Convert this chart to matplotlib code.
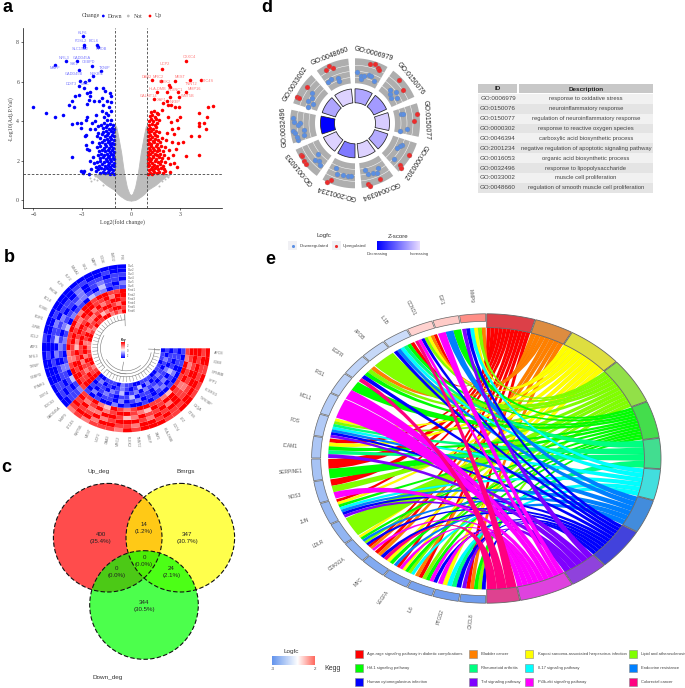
import numpy as np
import matplotlib
matplotlib.use("Agg")
import matplotlib.pyplot as plt
from matplotlib.collections import PolyCollection
from matplotlib.colors import LinearSegmentedColormap, Normalize, TwoSlopeNorm
from matplotlib.patches import Circle, Polygon, PathPatch, Rectangle
from matplotlib.path import Path

# ---- a: volcano, values
down_sparse = [(-6.05,4.7),(-5.2,4.4),(-4.65,4.2),(-4.2,4.3),(-3.8,4.8),(-3.65,5.0),(-3.5,4.7),(-3.45,5.3),(-3.2,5.35),(-3.2,5.8),(-3.15,6.05),(-4.7,6.85),(-4.0,7.05),(-3.3,7.05),(-3.2,6.6),
    (-2.95,8.3),(-2.9,7.85),(-2.9,7.75),(-2.1,7.85),(-2.0,7.75),(-2.4,6.8),(-1.85,6.55),(-2.35,6.3),(-2.6,6.1),(-2.8,6.0),(-2.9,5.7),(-2.7,5.45),(-2.5,5.5),(-2.15,5.7),(-1.75,5.7),(-1.6,5.55),(-1.3,5.45),(-1.2,5.3),
    (-2.55,5.3),(-2.6,5.1),(-2.7,4.85),(-2.3,5.05),(-1.95,5.0),(-1.8,5.2),(-1.5,5.05),(-1.2,4.95),(-1.7,4.8),(-1.35,4.7),(-1.8,4.5),(-1.55,4.4),(-1.4,4.3),(-1.2,4.5),(-1.65,4.2),(-1.45,4.05),(-1.2,4.05),
    (-2.15,4.3),(-2.2,4.0),(-2.7,4.2),(-2.75,4.05),(-3.65,3.85),(-3.35,3.9),(-3.05,3.9),(-3.05,3.65),(-2.8,3.25),(-2.75,3.3),(-2.4,3.9),(-2.5,3.6),(-2.2,3.6),(-2.0,3.75),(-2.0,3.4),(-3.65,2.2),(-2.75,2.8),(-2.7,2.6),(-2.6,2.55),(-2.4,2.95),(-2.35,2.2),(-2.55,2.0),(-2.3,1.9),(-2.15,1.7),(-3.05,1.45),(-2.95,1.35),(-2.9,1.45),(-2.6,1.3),(-2.45,1.55)]
down_dense = [(-1.04,1.33),(-1.16,1.38),(-1.29,1.32),(-1.43,1.41),(-1.58,1.36),(-1.74,1.44),(-1.93,1.35),(-2.14,1.47),(-1.09,1.52),(-1.22,1.57),(-1.36,1.5),(-1.5,1.6),(-1.67,1.55),(-1.85,1.62),(-2.03,1.58),
    (-1.03,1.71),(-1.14,1.76),(-1.28,1.69),(-1.42,1.78),(-1.6,1.73),(-1.78,1.81),(-1.97,1.75),(-1.07,1.9),(-1.2,1.96),(-1.33,1.88),(-1.49,1.97),(-1.66,1.92),(-1.88,1.99),(-2.1,1.93),
    (-1.02,2.08),(-1.13,2.14),(-1.26,2.06),(-1.39,2.16),(-1.55,2.1),(-1.72,2.17),(-1.93,2.12),(-1.08,2.27),(-1.21,2.33),(-1.34,2.25),(-1.47,2.35),(-1.63,2.29),(-1.82,2.36),(-2.05,2.3),
    (-1.03,2.46),(-1.15,2.52),(-1.29,2.44),(-1.42,2.54),(-1.58,2.47),(-1.76,2.55),(-1.95,2.5),(-1.09,2.65),(-1.23,2.72),(-1.37,2.63),(-1.52,2.73),(-1.69,2.66),(-1.88,2.74),(-2.12,2.68),
    (-1.02,2.84),(-1.14,2.9),(-1.27,2.82),(-1.44,2.93),(-1.6,2.86),(-1.8,2.95),(-1.99,2.9),(-1.07,3.03),(-1.2,3.1),(-1.35,3.01),(-1.5,3.12),(-1.68,3.05),(-1.9,3.13),
    (-1.04,3.23),(-1.17,3.29),(-1.3,3.2),(-1.46,3.31),(-1.62,3.24),(-1.79,3.33),(-2.08,3.25),(-1.1,3.43),(-1.25,3.49),(-1.4,3.4),(-1.56,3.52),(-1.75,3.45),(-1.05,3.62),(-1.19,3.68),(-1.34,3.6),(-1.52,3.71),(-1.7,3.63),(-1.13,3.82),(-1.28,3.88),(-1.46,3.8),(-1.63,3.9),(-1.85,3.83)]
up_sparse = [(3.37,7.07),(1.9,6.65),(1.3,6.1),(1.84,6.02),(2.7,6.04),(3.62,6.1),(4.3,6.1),(2.35,5.85),(2.43,5.75),(1.57,5.48),(2.19,5.5),(2.9,5.48),(3.37,5.5),(1.41,5.14),(2.43,5.23),(2.94,5.25),(2.19,5.0),(1.98,4.94),(2.29,4.82),(2.47,4.82),(2.7,4.74),(2.97,4.7),
    (4.74,4.74),(5.05,4.77),(4.17,4.43),(4.7,4.23),(4.48,3.89),(4.17,3.93),(4.17,3.76),(4.6,3.62),(3.72,3.27),(4.17,3.23),(4.19,2.3),(3.37,2.25),(2.82,1.66),(2.39,1.44),(2.64,1.9),(3.17,2.96),(2.9,2.91),(2.9,3.64),(3.0,4.2),(2.8,4.06),(2.45,3.95),(2.3,4.2),(2.55,3.6),(2.62,3.35),(2.2,3.4),(2.15,3.05),(2.5,2.95),(2.1,2.7),(2.35,2.55),(2.75,2.6),(2.6,2.3),(2.25,2.15),(2.42,1.85)]
up_dense = [(1.03,1.33),(1.15,1.38),(1.28,1.32),(1.42,1.41),(1.57,1.36),(1.75,1.44),(1.96,1.35),(2.12,1.47),(1.08,1.52),(1.21,1.57),(1.35,1.5),(1.49,1.6),(1.66,1.55),(1.86,1.62),(2.04,1.58),
    (1.03,1.71),(1.13,1.76),(1.27,1.69),(1.41,1.78),(1.59,1.73),(1.77,1.81),(1.98,1.75),(1.07,1.9),(1.19,1.96),(1.32,1.88),(1.48,1.97),(1.65,1.92),(1.87,1.99),(2.1,1.93),
    (1.02,2.08),(1.12,2.14),(1.25,2.06),(1.38,2.16),(1.54,2.1),(1.71,2.17),(1.92,2.12),(1.07,2.27),(1.2,2.33),(1.33,2.25),(1.46,2.35),(1.62,2.29),(1.81,2.36),(2.02,2.3),
    (1.03,2.46),(1.14,2.52),(1.28,2.44),(1.41,2.54),(1.57,2.47),(1.75,2.55),(1.94,2.5),(1.08,2.65),(1.22,2.72),(1.36,2.63),(1.51,2.73),(1.68,2.66),(1.87,2.74),(1.02,2.84),(1.13,2.9),(1.26,2.82),(1.43,2.93),(1.59,2.86),(1.79,2.95),
    (1.06,3.03),(1.19,3.1),(1.34,3.01),(1.49,3.12),(1.67,3.05),(1.89,3.13),(1.03,3.23),(1.16,3.29),(1.29,3.2),(1.45,3.31),(1.61,3.24),(1.09,3.43),(1.24,3.49),(1.39,3.4),(1.55,3.52),(1.74,3.45),(1.04,3.62),(1.18,3.68),(1.33,3.6),(1.51,3.71),(1.12,3.82),(1.27,3.88),(1.45,3.8),(1.62,3.9),
    (1.09,4.02),(1.23,4.1),(1.38,4.0),(1.55,4.12),(1.72,4.05),(1.15,4.25),(1.3,4.33),(1.46,4.22),(1.67,4.35),(1.24,4.46),(1.39,4.52),(1.58,4.44),(1.88,4.55)]
grey_x = [0,0.1,0.25,0.4,0.5,0.6,0.8,0.9,1.0]
grey_low = [-0.03,-0.02,0.0,0.06,0.12,0.17,0.3,0.39,0.5]
grey_up = [0.25,0.32,0.65,1.25,1.8,2.4,3.3,3.7,3.85]
grey_side_x = [1.0,1.5,2.0,2.3]
grey_side_low = [0.5,0.76,1.1,1.3]
grey_far_x = [-2.3,-2.1,-1.9,-2.6,-2.5,-1.7,-2.45,-2.2,2.1,2.3,1.9,2.35,2.2,1.75]
grey_far_y = [1.05,1.0,1.15,1.25,1.1,0.75,0.95,1.2,1.05,1.15,0.95,1.25,1.2,0.7]
down_names = ["KLF6","FOSL2","BCL6","SLC19A2","RHOB","NFIL3","GADD45A","CEBPD","SIK1","MAFF","TXNIP","NFKBIZ","GADD45B","DDIT3","MYC"]
down_name_x = [-3.0,-3.1,-2.3,-3.1,-1.8,-4.1,-3.0,-2.6,-3.5,-4.7,-1.6,-2.1,-3.5,-3.7,-2.8]
down_name_y = [8.48,8.07,8.07,7.66,7.66,7.23,7.23,6.98,6.9,6.7,6.72,6.4,6.4,5.9,5.9]
up_names = ["CXXC4","UCP2","DAB2","MRC2","MEST","PLEK2","TNNT2","LTC4S","HLA-DMB","PLXNC1","MMP16","WNT5B","GALNT14","XAF1","NREP"]
up_name_x = [3.6,2.1,0.95,1.7,3.0,2.1,3.7,4.7,1.6,2.7,3.9,3.5,1.1,1.9,2.7]
up_name_y = [7.25,6.9,6.25,6.25,6.25,6.0,5.9,6.05,5.65,5.6,5.65,5.3,5.3,5.1,4.95]

# ---- b: circular heatmap, digits 0 (blue) .. 4 (white) .. 8 (red), outer ring first
heat_block1 = [
    "0000000000000100000000",
    "0010011000100001000110",
    "1101102011021100100101",
    "0112102110211302011011",
    "2013012201120121021101",
    "1102230112031210120312",
    "8778878867887786678887",
    "8868778886678877687878",
    "7887686877887658788778",
    "8678877668778877867688",
    "7887658877687688687778",
    "8676887786788667788678",
]
heat_block2 = [
    "6767776878887788778788",
    "7886887768878778887787",
    "8778678887687887788878",
    "7866887568778687678788",
    "8678678876587887687678",
    "7786587678877658778867",
    "1010020100101001000101",
    "0201102012010120120110",
    "1012101130110212031011",
    "0110213012021101120110",
    "1201012101302012101201",
    "0011102110011100110110",
]
sample_names = ["Con1","Con2","Con3","Con4","Con5","Con6","Treat1","Treat2","Treat3","Treat4","Treat5","Treat6"]
heat_genes = ["IFI6","LMO2","CD36","MAFF","SIK1","NR4A1","KLF2","KLF6","RHOB","BCL6","FOSB","EGR1","JUNB","CCL2","ATF3","NFIL3","TXNIP","CEBPD","PPARG","DDIT4","SOCS3","GADD45A",
              "MMP9","LTC4S","WNT5B","MEST","UCP2","DAB2","MRC2","PLEK2","TNNT2","NREP","XAF1","HLA-DMB","CD74","LYZ","CTSS","C1QA","TYROBP","FCER1G","SPP1","GPNMB","CD68","APOE"]

# ---- c: venn
venn_names = ["Up_deg","Bmrgs","Down_deg"]
venn_counts = ["400\n(35.4%)","14\n(1.2%)","347\n(30.7%)","0\n(0.0%)","0\n(0.0%)","24\n(2.1%)","344\n(30.5%)"]

# ---- d: GO circle
go_ids = ["GO:0006979","GO:0150076","GO:0150077","GO:0000302","GO:0046394","GO:2001234","GO:0016053","GO:0032496","GO:0033002","GO:0048660"]
go_desc = ["response to oxidative stress","neuroinflammatory response","regulation of neuroinflammatory response",
           "response to reactive oxygen species","carboxylic acid biosynthetic process",
           "negative regulation of apoptotic signaling pathway","organic acid biosynthetic process",
           "response to lipopolysaccharide","muscle cell proliferation","regulation of smooth muscle cell proliferation"]
go_z = [-2.0,-2.2,-1.3,-1.9,-1.2,-2.8,-1.2,-5.0,-2.0,-1.2]
go_up_angle = [14,18.6,22.4,23.8,45.6,55.2,81.4,87.4,120,132.6,134.6,155.8,167.7,166.5,203,205.4,239.8,238.5,233.4,230,294.8,294.6,307.6,330.9,335.9,338.6]
go_up_lfc = [2.2,2.5,1.9,1.7,2.4,1.7,2.5,1.8,2.5,2.3,2.8,2.2,2.5,2.8,2.3,3.0,2.6,2.4,2.8,2.8,2.7,2.3,2.0,2.1,2.6,1.9]
go_down_angle = [2.6,7.2,7.3,10.8,16.4,18.2,24.3,46.7,52,50.4,54.9,58.9,78.9,79.5,95.9,99.3,115,117,121,132,167.9,165,160.7,155.9,152.6,202.8,199.7,193.5,187,184,230,227.5,224,219.8,275.3,271,270.7,268.3,263,261,254,257,262.5,257,305,301,295.6,294,289.6,331.4,327.4,339,339.7]
go_down_lfc = [0.3,-0.5,-1.1,-0.4,0.1,0.0,-0.8,-0.3,0.3,-0.9,-1.2,-0.2,-0.6,-0.2,0.4,-0.9,0.3,0.0,-0.3,0.6,-0.5,0.4,0.6,0.8,0.0,-0.4,0.7,0.6,0.7,0.6,-0.4,0.8,0.4,0.8,2.4,2.2,1.0,1.5,2.4,2.1,1.8,2.0,0.2,0.5,0.4,0.0,0.5,-0.7,-0.1,0.2,-0.1,-0.3,-1.0]

# ---- e: chord
kegg_names = ["Age-rage signaling pathway in diabetic complications","Bladder cancer","Kaposi sarcoma-associated herpesvirus infection","Lipid and atherosclerosis",
              "Hif-1 signaling pathway","Rheumatoid arthritis","Il-17 signaling pathway","Endocrine resistance",
              "Human cytomegalovirus infection","Tnf signaling pathway","Pi3k-akt signaling pathway","Colorectal cancer"]
kegg_colors = ["#ff0000","#ff8000","#ffff00","#80ff00","#00ff00","#00ff80","#00ffff","#0080ff","#0000ff","#8000ff","#ff00ff","#ff0080"]
kegg_ring = ["#dc4048","#dd8c40","#dede40","#92e048","#44dd4c","#42dd90","#42dede","#428cdc","#4242dc","#8f42dc","#de42de","#de4290"]
kegg_width = [16.3,13.0,18.8,18.7,15.0,12.4,12.6,13.7,16.9,13.0,18.4,11.2]
gene_names = ["CXCL8","PTGS2","IL6","VEGFA","MYC","CDKN1A","LDLR","JUN","NOS3","SERPINE1","ICAM1","FOS","MCL1","IRS1","EGFR","APOB","IL1B","CCND1","IGF1","MMP9"]
gene_lfc = [-2.8,-2.7,-2.6,-2.5,-2.4,-2.2,-2.1,-2.0,-1.8,-1.7,-1.6,-1.5,-1.4,-1.3,-1.2,-1.1,-1.0,0.6,0.7,1.5]
gene_terms = [[8,3,4,1,0,9],[8,5,6,2,10],[8,10,4,3,0,1],[6,3,4,2,10,0,7],[4,2,11,8,1,0],[10,1,0,8,3,7,4,2],
              [3],[9,8,7,6,4,2,0],[10,3,0],[4,0],[9,5,4,2,0],[9,8,7,6,5,3,2],[10],[10,4],[11,8,4,3,1],[3],
              [8,7,6,5,4,0],[11,10,8,3,2,1,0],[10,7,4],[9,8,6,2,3,1]]


def pol(cx, cy, rx, ry, deg):
    t = np.radians(deg)
    return cx + rx * np.sin(t), cy - ry * np.cos(t)


def ring(cx, cy, r0, r1, a0, a1, squash=1.0):
    # polygon of a ring sector, angle in degrees clockwise from the top
    aa = np.linspace(a0, a1, 24)
    xo, yo = pol(cx, cy, r1, r1 * squash, aa)
    xi, yi = pol(cx, cy, r0, r0 * squash, aa[::-1])
    return np.column_stack([np.r_[xo, xi], np.r_[yo, yi]])


fig = plt.figure(figsize=(6.85, 6.88), dpi=100)
ax = fig.add_axes([0, 0, 1, 1])
ax.set_xlim(0, 685)
ax.set_ylim(688, 0)
ax.axis("off")

for letter, lx, ly in [("a", 8, 7), ("b", 9, 257), ("c", 6, 467), ("d", 267, 8), ("e", 270, 259)]:
    ax.text(lx, ly, letter, fontsize=13, fontweight="bold", family="Liberation Sans", ha="center", va="center")

# 1) volcano
va = fig.add_axes([22.7 / 685, 1 - 208.3 / 688, 199 / 685, 180.3 / 688])
va.set_xlim(-6.66, 5.58)
va.set_ylim(-0.42, 8.73)
grey = "#bcbcbc"
for sign in [-1, 1]:
    va.fill_between(sign * np.array(grey_x), grey_low, grey_up, color=grey, lw=0.6)
    va.fill_between(sign * np.array(grey_side_x), grey_side_low, 1.3, color=grey, lw=0.6)
va.scatter(grey_far_x, grey_far_y, s=2, color=grey, lw=0)
down_x, down_y = np.array(down_sparse + down_dense).T
up_x, up_y = np.array(up_sparse + up_dense).T
va.scatter(down_x, down_y, s=6.5, color="#0000ff", lw=0, zorder=3)
va.scatter(up_x, up_y, s=6.5, color="#ff0000", lw=0, zorder=3)
for v in [-1, 1]:
    va.axvline(v, color="#444444", lw=0.6, ls=(0, (3, 2)), zorder=4)
va.axhline(1.3, color="#444444", lw=0.6, ls=(0, (3, 2)), zorder=4)
for n, x, y in zip(down_names, down_name_x, down_name_y):
    va.text(x, y, n, fontsize=2.8, color="#7a7aff", ha="center", va="center", family="Liberation Sans", zorder=5)
for n, x, y in zip(up_names, up_name_x, up_name_y):
    va.text(x, y, n, fontsize=2.8, color="#ff7a7a", ha="center", va="center", family="Liberation Sans", zorder=5)
va.set_xticks([-6, -3, 0, 3])
va.set_yticks([0, 2, 4, 6, 8])
va.tick_params(labelsize=4.2, length=1.5, width=0.4, pad=1, labelcolor="#444444")
for lab in va.get_xticklabels() + va.get_yticklabels():
    lab.set_family("Liberation Serif")
va.set_xlabel("Log2(fold change)", fontsize=4.3, family="Liberation Serif", labelpad=1.5, color="#444444")
va.set_ylabel("-Log10(Adj.P.Val)", fontsize=4.3, family="Liberation Serif", labelpad=2, color="#444444")
for s in ["top", "right"]:
    va.spines[s].set_visible(False)
for s in ["left", "bottom"]:
    va.spines[s].set_linewidth(0.5)

ax.text(90.5, 16, "Change", fontsize=4.2, family="Liberation Serif", ha="center", va="center", color="#444444")
ax.scatter([103.3, 128.3, 150], [16, 16, 16], s=4, c=["#0000ff", grey, "#ff0000"], lw=0)
for t, x in [("Down", 114.7), ("Not", 138.3), ("Up", 158.7)]:
    ax.text(x, 16, t, fontsize=4.2, family="Liberation Serif", ha="center", va="center", color="#444444")

# 2) circular heatmap
hc = (126, 348.3)
n_col = 44
step = 270 / n_col
ring_h = (84 - 35) / 12
heat_map = LinearSegmentedColormap.from_list("heat", ["#0000ff", "#ffffff", "#ff0000"])
polys = []
vals = []
for b, block in enumerate([heat_block1, heat_block2]):
    for r_i, row in enumerate(block):
        for c_i, ch in enumerate(row):
            a1 = 360 - (b * 22 + c_i) * step
            polys.append(ring(hc[0], hc[1], 84 - (r_i + 1) * ring_h, 84 - r_i * ring_h, a1 - step, a1))
            vals.append(int(ch))
pc = PolyCollection(polys, array=np.array(vals), cmap=heat_map, norm=Normalize(0, 8), linewidths=0)
ax.add_collection(pc)
for i, g in enumerate(heat_genes):
    a = 360 - (i + 0.5) * step
    x, y = pol(hc[0], hc[1], 88, 88, a)
    if a > 180:
        rot, ha = 270 - a, "right"
    else:
        rot, ha = 90 - a, "left"
    ax.text(x, y, g, fontsize=2.6, color="#777777", rotation=rot, rotation_mode="anchor", ha=ha, va="center", family="Liberation Sans")
for i, s in enumerate(sample_names):
    ax.text(127.5, 266 + i * 4.08, s, fontsize=2, color="#666666", va="center", family="Liberation Sans")
# dendrogram in the middle
dendro = "#777777"
for i in range(n_col):
    a = 360 - (i + 0.5) * step
    x0, y0 = pol(hc[0], hc[1], 33.5, 33.5, a)
    x1, y1 = pol(hc[0], hc[1], 28.5, 28.5, a)
    ax.plot([x0, x1], [y0, y1], color=dendro, lw=0.3)
for a0, a1, r in [(360 - 21.5 * step, 357, 28.5), (90, 360 - 22.5 * step, 28.5), (180, 300, 25.5), (100, 200, 25.5), (140, 240, 22.5)]:
    aa = np.linspace(a0, a1, 60)
    xa, ya = pol(hc[0], hc[1], r, r, aa)
    ax.plot(xa, ya, color=dendro, lw=0.4)
for a, r0, r1 in [(358, 22.5, 34), (92, 22.5, 34), (190, 14, 22.5)]:
    xa, ya = pol(hc[0], hc[1], np.array([r0, r1]), np.array([r0, r1]), a)
    ax.plot(xa, ya, color=dendro, lw=0.4)
grad = np.linspace(1, 0, 64).reshape(-1, 1)
ax.imshow(grad, cmap=heat_map, extent=(121.5, 125, 358.5, 343), aspect="auto", zorder=2)
ax.set_xlim(0, 685)
ax.set_ylim(688, 0)
ax.text(123.5, 340.5, "Key", fontsize=2.2, ha="center", va="center", family="Liberation Sans", fontweight="bold")
for t, y in [("2", 346), ("0", 351), ("-2", 356)]:
    ax.text(126.5, y, t, fontsize=1.9, va="center", family="Liberation Sans", color="#555555")

# 3) venn
venn_xy = [(107.7, 537.7), (180.3, 537.7), (144, 605)]
for xy, col in zip(venn_xy, ["#ff0000", "#ffff00", "#00ff00"]):
    ax.add_patch(Circle(xy, 54.3, fc=col, alpha=0.7, lw=0))
for xy in venn_xy:
    ax.add_patch(Circle(xy, 54.3, fc="none", ec="#111111", lw=0.8, ls=(0, (4, 2))))
for t, x, y in zip(venn_names, [99, 185.7, 108], [471.3, 471.3, 677.5]):
    ax.text(x, y, t, fontsize=4.6, ha="center", va="center", family="Liberation Sans", color="#333333")
for t, x, y in zip(venn_counts, [100.7, 144, 187.3, 116.7, 144, 171.3, 144], [537.8, 527.8, 537.8, 571.7, 560.8, 571.7, 605.5]):
    ax.text(x, y, t, fontsize=4.4, ha="center", va="center", family="Liberation Sans", color="#222222", linespacing=1.5)

# 4) GO circle
gc = (355, 123.3)
z_map = LinearSegmentedColormap.from_list("z", ["#0000ff", "#e8dcff"])
z_norm = Normalize(-5, -1)
for i, g in enumerate(go_ids):
    a0 = 36 * i
    a1 = a0 + 30
    ax.add_patch(Polygon(ring(gc[0], gc[1], 40, 65, a0, a1), fc="#aeaeae", ec="none"))
    for r in [46, 52, 58]:
        xa, ya = pol(gc[0], gc[1], r, r, np.linspace(a0, a1, 20))
        ax.plot(xa, ya, color="white", lw=0.35)
    ax.add_patch(Polygon(ring(gc[0], gc[1], 20.5, 34.5, a0, a1), fc=z_map(z_norm(go_z[i])), ec="#222222", lw=0.55))
    x, y = pol(gc[0], gc[1], 71.5, 71.5, a0 + 15)
    ax.text(x, y, g, fontsize=5, rotation=-(a0 + 15), ha="center", va="center", rotation_mode="anchor", family="Liberation Sans", color="#222222")
ux, uy = pol(gc[0], gc[1], 50 + 5 * np.array(go_up_lfc), 50 + 5 * np.array(go_up_lfc), np.array(go_up_angle))
dx, dy = pol(gc[0], gc[1], 50 + 5 * np.array(go_down_lfc), 50 + 5 * np.array(go_down_lfc), np.array(go_down_angle))
ax.scatter(ux, uy, s=13, color="#ee2c2c", lw=0.2, edgecolor="#888888", zorder=3)
ax.scatter(dx, dy, s=13, color="#5b8fe3", lw=0.2, edgecolor="#888888", zorder=3)
ax.text(324.3, 236, "Logfc", fontsize=4.4, ha="center", va="center", family="Liberation Sans", color="#333333")
ax.text(398.3, 236, "Z-score", fontsize=4.4, ha="center", va="center", family="Liberation Sans", color="#333333")
ax.add_patch(Rectangle((288.5, 241), 9, 9, fc="#f0f0f4", ec="none"))
ax.add_patch(Rectangle((332, 241), 9, 9, fc="#f0f0f4", ec="none"))
ax.scatter([293], [245.5], s=5, color="#5b8fe3", lw=0, zorder=3)
ax.scatter([336.3], [245.5], s=5, color="#ee2c2c", lw=0, zorder=3)
ax.text(300, 245.7, "Downregulated", fontsize=3.2, va="center", family="Liberation Sans", color="#444444")
ax.text(342.7, 245.7, "Upregulated", fontsize=3.2, va="center", family="Liberation Sans", color="#444444")
grad = np.linspace(0, 1, 64).reshape(1, -1)
ax.imshow(grad, cmap=z_map, extent=(377, 419.3, 250, 241.7), aspect="auto", zorder=2)
ax.set_xlim(0, 685)
ax.set_ylim(688, 0)
ax.text(377, 254.5, "Decreasing", fontsize=3.1, ha="center", va="center", family="Liberation Sans", color="#444444")
ax.text(419.3, 254.5, "Increasing", fontsize=3.1, ha="center", va="center", family="Liberation Sans", color="#444444")

# 5) GO table
row_h = 9.87
ax.add_patch(Rectangle((478.3, 84.3), 39, 9, fc="#c8c8c8", ec="none"))
ax.add_patch(Rectangle((519, 84.3), 134.3, 9, fc="#c8c8c8", ec="none"))
ax.text(498, 89, "ID", fontsize=4.6, fontweight="bold", ha="center", va="center", family="Liberation Sans", color="#222222")
ax.text(586, 89, "Description", fontsize=4.6, fontweight="bold", ha="center", va="center", family="Liberation Sans", color="#222222")
for i, (g, d) in enumerate(zip(go_ids, go_desc)):
    y = 94 + i * row_h
    ax.add_patch(Rectangle((478.3, y), 175, row_h, fc="#f1f1f1" if i % 2 == 0 else "#e4e4e4", ec="none"))
    ax.text(498, y + row_h / 2, g, fontsize=4.5, ha="center", va="center", family="Liberation Sans", color="#444444")
    ax.text(586, y + row_h / 2, d, fontsize=4.2, ha="center", va="center", family="Liberation Sans", color="#444444")

# 6) chord
cc = (486.3, 458.5)
crx = 174.7
cry = 144.7
squash = cry / crx
r_end = 0.905
pull = 0.45
gene_step = 180 / len(gene_names)
gene_map = LinearSegmentedColormap.from_list("lfc", ["#6495ed", "#ffffff", "#ff6a5f"])
gene_norm = TwoSlopeNorm(0, -3, 2)


def el(r, deg):
    return pol(cc[0], cc[1], r * crx, r * cry, deg)


# term sectors are shared out between the genes of the term, from the top gene down
kegg_start = np.r_[0, np.cumsum(kegg_width)[:-1]]
for t, name in enumerate(kegg_names):
    members = [g for g in range(len(gene_names)) if t in gene_terms[g]][::-1]
    part = (kegg_width[t] - 0.3) / len(members)
    for k, g in enumerate(members):
        ka0 = kegg_start[t] + 0.15 + k * part
        ka1 = ka0 + part
        terms = gene_terms[g]
        gpart = (gene_step - 0.4) / len(terms)
        ga0 = 180 + g * gene_step + 0.2 + terms.index(t) * gpart
        ga1 = ga0 + gpart
        arc1 = np.linspace(ka0, ka1, 6)
        arc2 = np.linspace(ga0, ga1, 6)
        verts = [el(r_end, a) for a in arc1]
        codes = [Path.MOVETO] + [Path.LINETO] * 5
        verts += [el(r_end * pull, ka1), el(r_end * pull, ga0), el(r_end, ga0)]
        codes += [Path.CURVE4] * 3
        verts += [el(r_end, a) for a in arc2[1:]]
        codes += [Path.LINETO] * 5
        verts += [el(r_end * pull, ga1), el(r_end * pull, ka0), el(r_end, ka0)]
        codes += [Path.CURVE4] * 3
        ax.add_patch(PathPatch(Path(verts, codes), fc=kegg_colors[t], ec=(0, 0, 0, 0.12), lw=0.15))
for t in range(len(kegg_names)):
    a0 = kegg_start[t] + 0.15
    a1 = kegg_start[t] + kegg_width[t] - 0.15
    ax.add_patch(Polygon(ring(cc[0], cc[1], r_end * crx, crx, a0, a1, squash), fc=kegg_ring[t], ec="#666666", lw=0.6))
for g, name in enumerate(gene_names):
    a0 = 180 + g * gene_step + 0.2
    a1 = a0 + gene_step - 0.4
    ax.add_patch(Polygon(ring(cc[0], cc[1], 0.948 * crx, crx, a0, a1, squash), fc=gene_map(gene_norm(gene_lfc[g])), ec="#666666", lw=0.5))
    ac = 0.5 * (a0 + a1)
    x, y = el(1.125, ac)
    rot = np.degrees(np.arctan2(cc[1] - y, x - cc[0])) - 180
    ax.text(x, y, name, fontsize=3.5, rotation=rot, ha="center", va="center", rotation_mode="anchor", family="Liberation Sans", color="#555555")

# 7) chord legends
ax.text(291, 651.5, "Logfc", fontsize=4.6, ha="center", va="center", family="Liberation Sans", color="#333333")
grad = np.linspace(-3, 2, 64).reshape(1, -1)
ax.imshow(grad, cmap=gene_map, norm=gene_norm, extent=(272, 315, 665, 656.5), aspect="auto", zorder=2)
ax.set_xlim(0, 685)
ax.set_ylim(688, 0)
ax.text(272.5, 669, "-3", fontsize=3.2, ha="center", va="center", family="Liberation Sans", color="#444444")
ax.text(314.5, 669, "2", fontsize=3.2, ha="center", va="center", family="Liberation Sans", color="#444444")
ax.text(332.3, 668.3, "Kegg", fontsize=5, ha="center", va="center", family="Liberation Sans", color="#333333")
leg_col_sw = [359, 472.7, 529, 632.7]
leg_col_tx = [367.3, 481, 537.7, 641]
leg_row = [654.3, 668.3, 682]
for t, name in enumerate(kegg_names):
    r_i = t // 4
    c_i = t % 4
    ax.add_patch(Rectangle((leg_col_sw[c_i] - 4, leg_row[r_i] - 4), 8, 8, fc=kegg_colors[t], ec="#888888", lw=0.4))
    ax.text(leg_col_tx[c_i], leg_row[r_i], name, fontsize=2.95, va="center", family="Liberation Sans", color="#444444")

fig.savefig("out.png", dpi=100)
plt.close(fig)
